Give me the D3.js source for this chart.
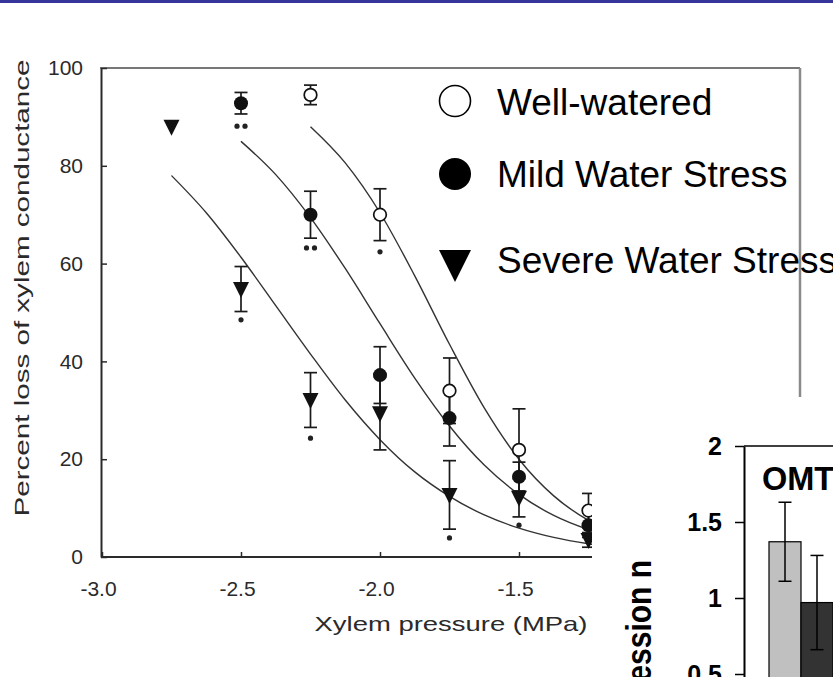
<!DOCTYPE html>
<html lang="en">
<head>
    <meta charset="UTF-8">
    <title>Xylem vulnerability</title>
    <script src="https://d3js.org/d3.v7.min.js"></script>
    <style>
        body {
            margin: 0;
            background-color: #ffffff;
        }
        svg {
            display: block;
            font-family: "Liberation Sans", Arial, sans-serif;
        }
    </style>
</head>
<body>

<svg width="833" height="677"></svg>

<script>
    // vulnerability curve data (percent loss of conductance vs xylem pressure)
    const xTicks = [-3.0, -2.5, -2.0, -1.5, -1.0];
    const yTicks = [0, 20, 40, 60, 80, 100];

    // measured points: p = pressure (MPa), v = PLC (%), e = error
    const wellWatered = [
        {p: -2.25, v: 94.5, e: 2.0},
        {p: -2.0, v: 70.0, e: 5.3},
        {p: -1.75, v: 34.0, e: 6.7},
        {p: -1.5, v: 21.9, e: 8.4},
        {p: -1.25, v: 9.5, e: 3.5}
    ];
    const mildStress = [
        {p: -2.5, v: 92.8, e: 2.2},
        {p: -2.25, v: 70.0, e: 4.8},
        {p: -2.0, v: 37.2, e: 5.8},
        {p: -1.75, v: 28.4, e: 5.7},
        {p: -1.5, v: 16.4, e: 3.0},
        {p: -1.25, v: 6.5, e: 2.5}
    ];
    const severeStress = [
        {p: -2.75, v: 88.0, e: 0},
        {p: -2.5, v: 54.8, e: 4.6},
        {p: -2.25, v: 32.1, e: 5.6},
        {p: -2.0, v: 29.4, e: 7.5},
        {p: -1.75, v: 12.7, e: 7.0},
        {p: -1.5, v: 12.1, e: 3.9},
        {p: -1.25, v: 3.5, e: 1.5}
    ];

    // fitted curves
    const wellWateredFit = [[-2.25, 88.0], [-2.125, 80.6], [-2.0, 70.4], [-1.875, 57.5], [-1.75, 43.5],
        [-1.625, 30.5], [-1.5, 20.0], [-1.375, 12.5], [-1.25, 7.5], [-1.125, 4.4]];
    const mildFit = [[-2.5, 85.0], [-2.375, 78.2], [-2.25, 69.4], [-2.125, 59.0], [-2.0, 47.7], [-1.875, 36.6],
        [-1.75, 26.8], [-1.625, 18.8], [-1.5, 12.8], [-1.375, 8.5], [-1.25, 5.6], [-1.125, 3.6]];
    const severeFit = [[-2.75, 78.0], [-2.625, 70.4], [-2.5, 61.3], [-2.375, 51.4], [-2.25, 41.5], [-2.125, 32.1],
        [-2.0, 24.0], [-1.875, 17.4], [-1.75, 12.4], [-1.625, 8.6], [-1.5, 5.9], [-1.375, 4.0], [-1.25, 2.7], [-1.125, 1.8]];

    // significance marks (n = number of asterisks)
    const sigMarks = [
        {p: -2.5, v: 88.1, n: 2},
        {p: -2.25, v: 63.2, n: 2},
        {p: -2.0, v: 62.4, n: 1},
        {p: -2.5, v: 48.5, n: 1},
        {p: -2.25, v: 24.3, n: 1},
        {p: -1.75, v: 3.9, n: 1},
        {p: -1.5, v: 6.5, n: 1}
    ];

    const legendLabels = ["Well-watered", "Mild Water Stress", "Severe Water Stress"];

    // inset bar chart
    const barTitle = "OMT";
    const barGroups = ["Control", "Stress"];
    const barValues = [1.37, 0.97];
    const barErrors = [0.26, 0.31];
    const barColors = ["#c0c0c0", "#333333"];
    const barTicks = [0.5, 1, 1.5, 2];

    const svg = d3.select("svg");

    // slide header bar
    svg.append("rect")
        .attr("x", 0).attr("y", 0)
        .attr("width", 833).attr("height", 3)
        .attr("fill", "#35359a");

    const x = d3.scaleLinear().domain([-3, -0.5]).range([102, 797]);
    const y = d3.scaleLinear().domain([0, 100]).range([557, 68]);
    const ink = "#2a2a2a";

    // frame (top + right)
    svg.append("line")
        .attr("x1", 100).attr("x2", 800).attr("y1", 68).attr("y2", 68)
        .attr("stroke", "#777").attr("stroke-width", 2);
    svg.append("line")
        .attr("x1", 800).attr("x2", 800).attr("y1", 68).attr("y2", 557)
        .attr("stroke", "#8a8a8a").attr("stroke-width", 2.5);

    // axes
    const yAxis = svg.append("g")
        .attr("transform", "translate(101,0)")
        .call(d3.axisLeft(y).tickValues(yTicks).tickSize(-6).tickSizeOuter(0).tickPadding(18));
    const xAxis = svg.append("g")
        .attr("transform", "translate(0,557)")
        .call(d3.axisBottom(x).tickValues(xTicks).tickFormat(d => d.toFixed(1))
            .tickSize(-5).tickSizeOuter(0).tickPadding(24));

    [yAxis, xAxis].forEach(g => {
        g.select(".domain").attr("stroke", ink).attr("stroke-width", 2);
        g.selectAll(".tick line").attr("stroke", ink).attr("stroke-width", 1.5);
        g.selectAll("text")
            .attr("fill", ink)
            .style("font-size", "21px")
            .style("font-family", "'Liberation Sans', Arial, sans-serif");
    });
    xAxis.selectAll("text").attr("dx", -4);
    xAxis.select(".domain").attr("d", `M${x(-3) - 1},0H${x(-0.5)}`);

    // axis titles
    svg.append("text")
        .attr("x", 451).attr("y", 631)
        .attr("text-anchor", "middle")
        .attr("textLength", 273).attr("lengthAdjust", "spacingAndGlyphs")
        .attr("fill", ink)
        .style("font-size", "21px")
        .text("Xylem pressure (MPa)");
    svg.append("text")
        .attr("transform", "translate(29,288) rotate(-90)")
        .attr("text-anchor", "middle")
        .attr("textLength", 457).attr("lengthAdjust", "spacingAndGlyphs")
        .attr("fill", ink)
        .style("font-size", "21px")
        .text("Percent loss of xylem conductance");

    // fitted curves
    const line = d3.line()
        .x(d => x(d[0]))
        .y(d => y(d[1]))
        .curve(d3.curveMonotoneX);
    [wellWateredFit, mildFit, severeFit].forEach(fit => {
        svg.append("path")
            .attr("d", line(fit))
            .attr("fill", "none")
            .attr("stroke", "#333")
            .attr("stroke-width", 1.4);
    });

    // error bars
    function drawErrors(data) {
        const g = svg.append("g")
            .attr("stroke", "#1a1a1a")
            .attr("stroke-width", 1.7);
        data.filter(d => d.e > 0).forEach(d => {
            const cx = x(d.p);
            g.append("line").attr("x1", cx).attr("x2", cx)
                .attr("y1", y(d.v - d.e)).attr("y2", y(d.v + d.e));
            [d.v - d.e, d.v + d.e].forEach(v => {
                g.append("line").attr("x1", cx - 6.5).attr("x2", cx + 6.5)
                    .attr("y1", y(v)).attr("y2", y(v));
            });
        });
    }
    drawErrors(severeStress);
    drawErrors(mildStress);
    drawErrors(wellWatered);

    const triangle = "M-8,-7L8,-7L0,9Z";

    svg.append("g").selectAll("path")
        .data(severeStress)
        .enter()
        .append("path")
        .attr("d", triangle)
        .attr("transform", d => `translate(${x(d.p)},${y(d.v)})`)
        .attr("fill", "#111");

    svg.append("g").selectAll("circle")
        .data(mildStress)
        .enter()
        .append("circle")
        .attr("cx", d => x(d.p))
        .attr("cy", d => y(d.v))
        .attr("r", 7)
        .attr("fill", "#111");

    svg.append("g").selectAll("circle")
        .data(wellWatered)
        .enter()
        .append("circle")
        .attr("cx", d => x(d.p))
        .attr("cy", d => y(d.v))
        .attr("r", 6.3)
        .attr("fill", "#fff")
        .attr("stroke", "#111")
        .attr("stroke-width", 1.7);

    // asterisks (small blobs in the scan)
    sigMarks.forEach(d => {
        const offsets = d.n === 2 ? [-4, 4] : [0];
        offsets.forEach(o => {
            svg.append("circle")
                .attr("cx", x(d.p) + o)
                .attr("cy", y(d.v))
                .attr("r", 2.6)
                .attr("fill", "#222");
        });
    });

    // white panel of the inset figure
    svg.append("rect")
        .attr("x", 592).attr("y", 397)
        .attr("width", 241).attr("height", 280)
        .attr("fill", "#fff");

    // legend
    const legendBase = [115, 187, 273];
    const legend = svg.append("g");
    legendLabels.forEach((label, i) => {
        const by = legendBase[i];
        if (i === 0) {
            legend.append("circle").attr("cx", 455).attr("cy", by - 14).attr("r", 15.5)
                .attr("fill", "#fff").attr("stroke", "#000").attr("stroke-width", 1.6);
        } else if (i === 1) {
            legend.append("circle").attr("cx", 455).attr("cy", by - 13).attr("r", 16)
                .attr("fill", "#000");
        } else {
            legend.append("path")
                .attr("d", `M439,${by - 23}L471,${by - 23}L455,${by + 9}Z`)
                .attr("fill", "#000");
        }
        legend.append("text")
            .attr("x", 497).attr("y", by)
            .attr("fill", "#000")
            .style("font-size", "37px")
            .text(label);
    });

    // inset bar chart
    const bx = d3.scaleBand().domain(barGroups).range([769, 833]).padding(0);
    const byScale = d3.scaleLinear().domain([0, 2]).range([750, 446]);

    svg.append("g").selectAll("rect")
        .data(barGroups)
        .enter()
        .append("rect")
        .attr("x", d => bx(d))
        .attr("y", (d, i) => byScale(barValues[i]))
        .attr("width", bx.bandwidth())
        .attr("height", (d, i) => byScale(0) - byScale(barValues[i]))
        .attr("fill", (d, i) => barColors[i])
        .attr("stroke", "#000")
        .attr("stroke-width", 1.2);

    const eg = svg.append("g").attr("stroke", "#000").attr("stroke-width", 1.5);
    barGroups.forEach((g, i) => {
        const cx = bx(g) + bx.bandwidth() / 2;
        const lo = barValues[i] - barErrors[i];
        const hi = barValues[i] + barErrors[i];
        eg.append("line").attr("x1", cx).attr("x2", cx).attr("y1", byScale(lo)).attr("y2", byScale(hi));
        [lo, hi].forEach(v => {
            eg.append("line").attr("x1", cx - 6.5).attr("x2", cx + 6.5)
                .attr("y1", byScale(v)).attr("y2", byScale(v));
        });
    });

    const barAxis = svg.append("g")
        .attr("transform", "translate(744,0)")
        .call(d3.axisLeft(byScale).tickValues(barTicks).tickFormat(d3.format(""))
            .tickSize(9).tickSizeOuter(0).tickPadding(13));
    barAxis.select(".domain").attr("stroke", "#000").attr("stroke-width", 2);
    barAxis.selectAll(".tick line").attr("stroke", "#000").attr("stroke-width", 1.5);
    barAxis.selectAll("text")
        .attr("fill", "#000")
        .style("font-size", "25px")
        .style("font-weight", "bold")
        .style("font-family", "'Liberation Sans', Arial, sans-serif");

    svg.append("line")
        .attr("x1", 744).attr("x2", 833)
        .attr("y1", byScale(2)).attr("y2", byScale(2))
        .attr("stroke", "#000").attr("stroke-width", 1.5);

    svg.append("text")
        .attr("x", 762).attr("y", 490)
        .style("font-size", "32.5px")
        .style("font-weight", "bold")
        .text(barTitle);

    svg.append("text")
        .attr("transform", "translate(651,560) rotate(-90) scale(1,1.15)")
        .attr("text-anchor", "end")
        .style("font-size", "30px")
        .style("font-weight", "bold")
        .text("Relative expression n");
</script>

</body>
</html>
